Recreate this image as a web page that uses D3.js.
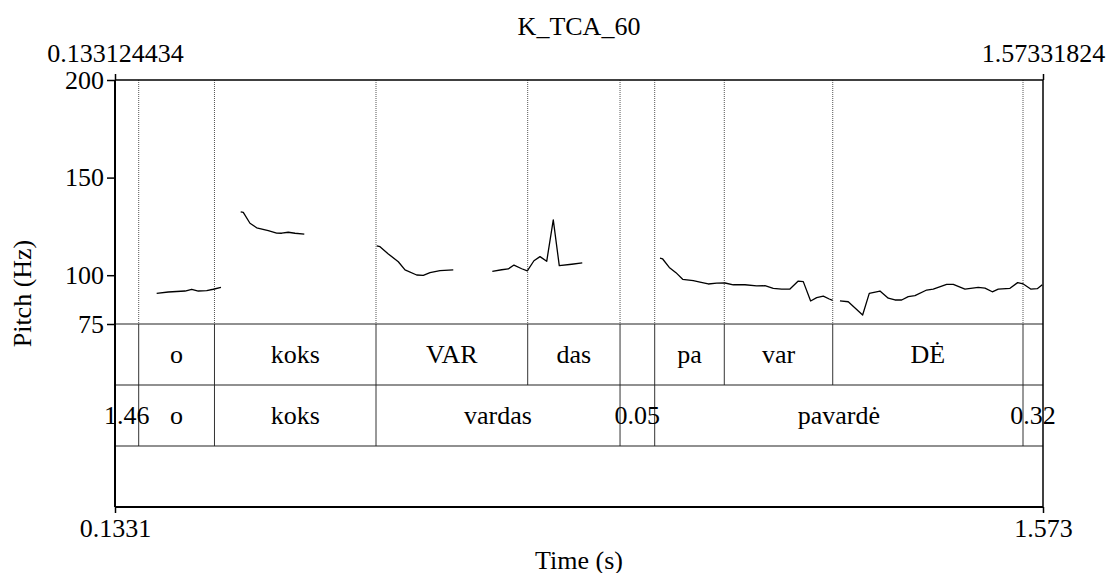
<!DOCTYPE html>
<html>
<head>
<meta charset="utf-8">
<script src="https://cdn.jsdelivr.net/npm/d3@7"></script>
<style>
  body { margin: 0; background: #fff; }
</style>
</head>
<body>
<div id="wrapper"></div>
<script>
// time range of the sound
const tStart = 0.133124434
const tEnd = 1.57331824

// pitch ticks (Hz)
const pitchTicks = [75, 100, 150, 200]

// pitch contour, one array per voiced stretch: [time (s), pitch (Hz)]
const pitchSeg1 = [[0.1978,90.7],[0.2158,91.4],[0.2418,91.9],[0.2522,92.8],[0.2624,91.9],[0.2754,92.1],[0.2857,92.8],[0.2976,93.8]]
const pitchSeg2 = [[0.3282,132.5],[0.3322,132.2],[0.3426,126.6],[0.3530,124.3],[0.3710,122.8],[0.3840,121.6],[0.3918,121.5],[0.4020,122.0],[0.4125,121.5],[0.4269,121.0]]
const pitchSeg3 = [[0.5393,115.0],[0.5444,114.6],[0.5573,110.9],[0.5728,106.9],[0.5832,102.7],[0.6013,100.1],[0.6116,99.95],[0.6220,101.3],[0.6375,102.3],[0.6581,102.7]]
const pitchSeg4 = [[0.7187,102.0],[0.7332,102.8],[0.7435,103.2],[0.7523,105.2],[0.7643,103.3],[0.7730,102.2],[0.7833,107.4],[0.7927,109.5],[0.8031,107.1],[0.8133,128.3],[0.8226,104.9],[0.8419,105.6],[0.8583,106.3]]
const pitchSeg5 = [[0.9789,108.7],[0.9831,108.3],[0.9933,104.0],[1.0037,101.3],[1.0141,97.9],[1.0306,97.2],[1.0410,96.5],[1.0538,95.5],[1.0669,95.9],[1.0798,96.0],[1.0927,95.1],[1.1108,95.1],[1.1289,94.5],[1.1418,94.6],[1.1547,93.3],[1.1677,92.9],[1.1806,92.9],[1.1935,97.0],[1.2013,96.7],[1.2127,86.8],[1.2221,88.5],[1.2323,89.3],[1.2416,87.8],[1.2469,87.1]]
const pitchSeg6 = [[1.2582,86.9],[1.2711,86.4],[1.2934,79.6],[1.3037,90.7],[1.3203,91.9],[1.3332,88.2],[1.3436,87.3],[1.3540,87.3],[1.3642,89.0],[1.3746,89.5],[1.3928,92.4],[1.4030,92.9],[1.4238,95.3],[1.4341,95.3],[1.4522,92.9],[1.4728,93.8],[1.4833,93.4],[1.4946,91.5],[1.5039,92.9],[1.5221,93.3],[1.5340,96.2],[1.5427,95.5],[1.5542,92.9],[1.5644,93.1],[1.5722,95.1]]
const pitchSegments = [pitchSeg1, pitchSeg2, pitchSeg3, pitchSeg4, pitchSeg5, pitchSeg6]

// TextGrid tier 1 (syllables)
const sylBounds = [tStart, 0.1699, 0.2875, 0.5382, 0.7736, 0.9169, 0.9707, 1.0787, 1.2470, 1.5423, tEnd]
const sylLabels = ["", "o", "koks", "VAR", "das", "", "pa", "var", "DĖ", ""]

// TextGrid tier 2 (words)
const wordBounds = [tStart, 0.1699, 0.2875, 0.5382, 0.9169, 0.9707, 1.5423, tEnd]
const wordLabels = ["1.46", "o", "koks", "vardas", "0.05", "pavardė", "0.32"]

// tier 3 is empty
const emptyBounds = [tStart, tEnd]
const emptyLabels = [""]

const tiers = [
  {bounds: sylBounds, labels: sylLabels},
  {bounds: wordBounds, labels: wordLabels},
  {bounds: emptyBounds, labels: emptyLabels},
]

const dimensions = {
  width: 1110,
  height: 573,
  left: 115,
  right: 1043,
  top: 80,
  pitchBottom: 324,
  tierHeight: 61,
}
dimensions.bottom = dimensions.pitchBottom + tiers.length * dimensions.tierHeight

const fontSize = 26
const fontFamily = "Liberation Serif, Times New Roman, serif"

const svg = d3.select("#wrapper")
  .append("svg")
    .attr("width", dimensions.width)
    .attr("height", dimensions.height)

const xScale = d3.scaleLinear()
  .domain([tStart, tEnd])
  .range([dimensions.left, dimensions.right])

const yScale = d3.scaleLinear()
  .domain([75, 200])
  .range([dimensions.pitchBottom, dimensions.top])

// dotted boundary lines over the pitch area
svg.append("g")
  .selectAll("line")
  .data(sylBounds.slice(1, -1))
  .join("line")
    .attr("x1", d => xScale(d))
    .attr("x2", d => xScale(d))
    .attr("y1", dimensions.top)
    .attr("y2", dimensions.pitchBottom)
    .attr("stroke", "#555")
    .attr("stroke-width", 1)
    .attr("stroke-dasharray", "1,1")

// pitch contour
const lineGen = d3.line()
  .x(d => xScale(d[0]))
  .y(d => yScale(d[1]))

svg.append("g")
  .selectAll("path")
  .data(pitchSegments)
  .join("path")
    .attr("d", lineGen)
    .attr("fill", "none")
    .attr("stroke", "#000")
    .attr("stroke-width", 1.3)
    .attr("stroke-linejoin", "round")

// tiers
tiers.forEach((tier, i) => {
  const y0 = dimensions.pitchBottom + i * dimensions.tierHeight
  const g = svg.append("g")

  g.selectAll("line")
    .data(tier.bounds.slice(1, -1))
    .join("line")
      .attr("x1", d => xScale(d))
      .attr("x2", d => xScale(d))
      .attr("y1", y0)
      .attr("y2", y0 + dimensions.tierHeight)
      .attr("stroke", "#333")
      .attr("stroke-width", 1)

  g.selectAll("text")
    .data(tier.labels)
    .join("text")
      .attr("x", (d, j) => (xScale(tier.bounds[j]) + xScale(tier.bounds[j + 1])) / 2)
      .attr("y", y0 + dimensions.tierHeight / 2)
      .attr("text-anchor", "middle")
      .attr("dominant-baseline", "central")
      .style("font-family", fontFamily)
      .style("font-size", fontSize + "px")
      .text(d => d)

  g.append("line")
    .attr("x1", dimensions.left)
    .attr("x2", dimensions.right)
    .attr("y1", y0)
    .attr("y2", y0)
    .attr("stroke", "#222")
    .attr("stroke-width", 1.2)
})

// frame
svg.append("line")
  .attr("x1", dimensions.left).attr("x2", dimensions.right)
  .attr("y1", dimensions.top).attr("y2", dimensions.top)
  .attr("stroke", "#000").attr("stroke-width", 1.5)
svg.append("line")
  .attr("x1", dimensions.left).attr("x2", dimensions.right)
  .attr("y1", dimensions.bottom).attr("y2", dimensions.bottom)
  .attr("stroke", "#000").attr("stroke-width", 2)
svg.append("line")
  .attr("x1", dimensions.right).attr("x2", dimensions.right)
  .attr("y1", dimensions.top).attr("y2", dimensions.bottom)
  .attr("stroke", "#000").attr("stroke-width", 1.5)

// left axis
const yAxis = svg.append("g")
  .attr("transform", `translate(${dimensions.left},0)`)
  .call(d3.axisLeft(yScale).tickValues(pitchTicks).tickSize(8).tickPadding(3).tickSizeOuter(0))
yAxis.select(".domain").remove()
yAxis.selectAll(".tick line").attr("stroke-width", 1.5)
yAxis.selectAll("text")
  .style("font-size", fontSize + "px")
  .style("font-family", fontFamily)
  .attr("fill", "#000")
svg.append("line")
  .attr("x1", dimensions.left).attr("x2", dimensions.left)
  .attr("y1", dimensions.top).attr("y2", dimensions.bottom)
  .attr("stroke", "#000").attr("stroke-width", 2)

// bottom axis
const bottomAxis = svg.append("g")
  .attr("transform", `translate(0,${dimensions.bottom})`)
  .call(d3.axisBottom(xScale).tickValues([tStart, tEnd]).tickSize(6).tickPadding(6)
    .tickFormat((d, i) => ["0.1331", "1.573"][i]))
bottomAxis.select(".domain").remove()
bottomAxis.selectAll(".tick line").attr("stroke-width", 1.5)
bottomAxis.selectAll("text")
  .style("font-size", fontSize + "px")
  .style("font-family", fontFamily)
  .attr("fill", "#000")

// top axis with the exact range
const topAxis = svg.append("g")
  .attr("transform", `translate(0,${dimensions.top})`)
  .call(d3.axisTop(xScale).tickValues([tStart, tEnd]).tickSize(6).tickPadding(12)
    .tickFormat((d, i) => ["0.133124434", "1.57331824"][i]))
topAxis.select(".domain").remove()
topAxis.selectAll(".tick line").attr("stroke-width", 1.5)
topAxis.selectAll("text")
  .style("font-size", fontSize + "px")
  .style("font-family", fontFamily)
  .attr("fill", "#000")

// titles
const midX = (dimensions.left + dimensions.right) / 2
svg.append("text")
  .attr("x", midX).attr("y", 26)
  .attr("text-anchor", "middle").attr("dominant-baseline", "central")
  .style("font-family", fontFamily).style("font-size", fontSize + "px")
  .text("K_TCA_60")
svg.append("text")
  .attr("x", midX).attr("y", 560)
  .attr("text-anchor", "middle").attr("dominant-baseline", "central")
  .style("font-family", fontFamily).style("font-size", fontSize + "px")
  .text("Time (s)")
svg.append("text")
  .attr("transform", `translate(22,${(dimensions.top + dimensions.bottom) / 2}) rotate(-90)`)
  .attr("text-anchor", "middle").attr("dominant-baseline", "central")
  .style("font-family", fontFamily).style("font-size", fontSize + "px")
  .text("Pitch (Hz)")
</script>
</body>
</html>
